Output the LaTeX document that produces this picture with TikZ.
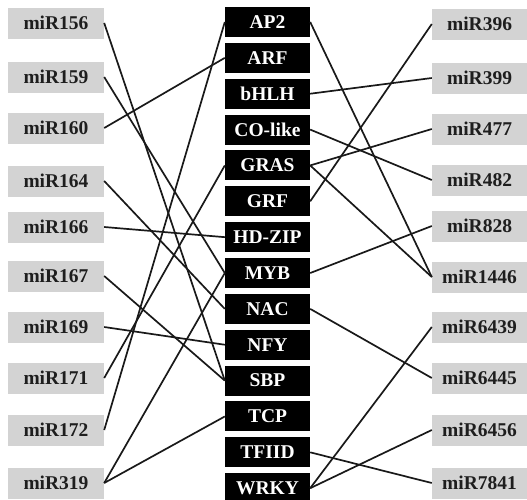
\documentclass[tikz,border=0pt]{standalone}
\usepackage{fontspec}
\setmainfont{Liberation Serif}
\usetikzlibrary{positioning}
\definecolor{mirgray}{HTML}{D3D3D3}
\definecolor{mirtext}{HTML}{1E1E1E}

\begin{document}
\begin{tikzpicture}[
   x=1pt, y=-1pt,
   node distance = 5.46pt,
   mir/.style = {fill=mirgray, text=mirtext, minimum width=96pt, minimum height=31pt,
                 inner sep=0pt, font=\fontsize{19.5}{19.5}\selectfont\bfseries},
   tf/.style  = {fill=black, text=white, minimum width=85pt, minimum height=30pt,
                 inner sep=0pt, font=\fontsize{19.5}{19.5}\selectfont\bfseries},
   link/.style = {line width=1.7pt, black!90}
]
\useasboundingbox (0,0) rectangle (527,499);

% miRNA families, left
\node[mir] (m156) at (56,23)  {miR156};
\node[mir] (m159) at (56,77)  {miR159};
\node[mir] (m160) at (56,128) {miR160};
\node[mir] (m164) at (56,181) {miR164};
\node[mir] (m166) at (56,227) {miR166};
\node[mir] (m167) at (56,276) {miR167};
\node[mir] (m169) at (56,327) {miR169};
\node[mir] (m171) at (56,378) {miR171};
\node[mir] (m172) at (56,430) {miR172};
\node[mir] (m319) at (56,483) {miR319};

% target gene families, middle
\node[tf] (ap2) at (267.5,22) {AP2};
\node[tf, below=of ap2]  (arf)   {ARF};
\node[tf, below=of arf]  (bhlh)  {bHLH};
\node[tf, below=of bhlh] (colike){CO-like};
\node[tf, below=of colike] (gras){GRAS};
\node[tf, below=of gras] (grf)   {GRF};
\node[tf, below=of grf]  (hdzip) {HD-ZIP};
\node[tf, below=of hdzip] (myb)  {MYB};
\node[tf, below=of myb]  (nac)   {NAC};
\node[tf, below=of nac]  (nfy)   {NFY};
\node[tf, below=of nfy]  (sbp)   {SBP};
\node[tf, below=of sbp]  (tcp)   {TCP};
\node[tf, below=of tcp]  (tfiid) {TFIID};
\node[tf, below=of tfiid] (wrky) {WRKY};

% miRNA families, right
\node[mir, minimum width=95pt] (m396)  at (479.5,24)  {miR396};
\node[mir, minimum width=95pt] (m399)  at (479.5,78)  {miR399};
\node[mir, minimum width=95pt] (m477)  at (479.5,129) {miR477};
\node[mir, minimum width=95pt] (m482)  at (479.5,180) {miR482};
\node[mir, minimum width=95pt] (m828)  at (479.5,226) {miR828};
\node[mir, minimum width=95pt] (m1446) at (479.5,277) {miR1446};
\node[mir, minimum width=95pt] (m6439) at (479.5,327) {miR6439};
\node[mir, minimum width=95pt] (m6445) at (479.5,378) {miR6445};
\node[mir, minimum width=95pt] (m6456) at (479.5,430) {miR6456};
\node[mir, minimum width=95pt] (m7841) at (479.5,483) {miR7841};

% left links
\draw[link] (m156.east) -- (sbp.west);
\draw[link] (m159.east) -- (myb.west);
\draw[link] (m160.east) -- (arf.west);
\draw[link] (m164.east) -- (nac.west);
\draw[link] (m166.east) -- (hdzip.west);
\draw[link] (m167.east) -- (sbp.west);
\draw[link] (m169.east) -- (nfy.west);
\draw[link] (m171.east) -- (gras.west);
\draw[link] (m172.east) -- (ap2.west);
\draw[link] (m319.east) -- (myb.west);
\draw[link] (m319.east) -- (tcp.west);

% right links
\draw[link] (ap2.east)    -- (m1446.west);
\draw[link] (bhlh.east)   -- (m399.west);
\draw[link] (colike.east) -- (m482.west);
\draw[link] (gras.east)   -- (m477.west);
\draw[link] (gras.east)   -- (m1446.west);
\draw[link] (grf.east)    -- (m396.west);
\draw[link] (myb.east)    -- (m828.west);
\draw[link] (nac.east)    -- (m6445.west);
\draw[link] (tfiid.east)  -- (m7841.west);
\draw[link] (wrky.east)   -- (m6439.west);
\draw[link] (wrky.east)   -- (m6456.west);
\end{tikzpicture}
\end{document}
